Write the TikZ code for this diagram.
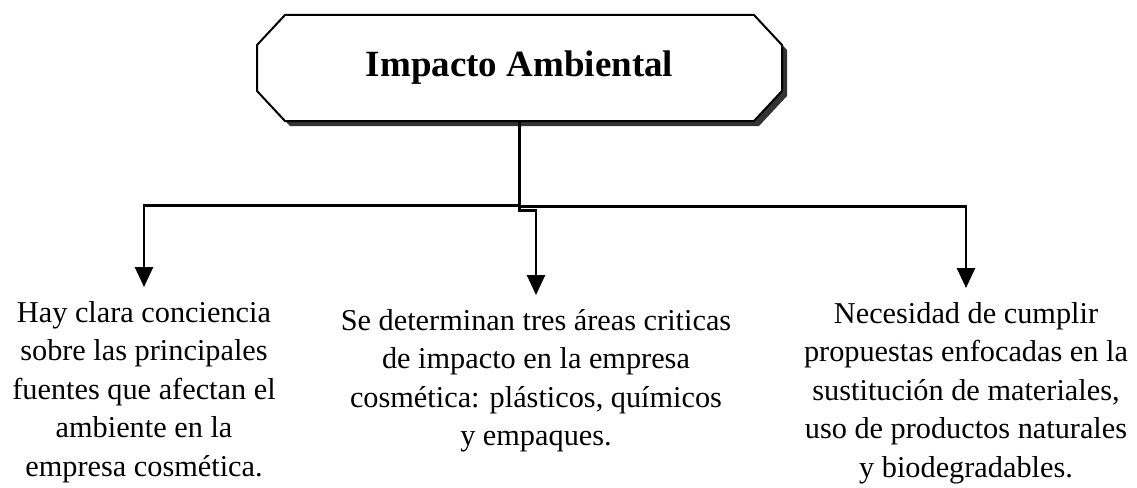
\documentclass[tikz,border=0pt]{standalone}
\usepackage{fontspec}
\setmainfont{Liberation Serif}
\usetikzlibrary{positioning,backgrounds,arrows.meta}

\begin{document}
\begin{tikzpicture}[x=1pt, y=-1pt,
	main/.style = {minimum width=525pt, minimum height=106pt, inner sep=0pt,
		font=\fontsize{37}{44}\selectfont\bfseries},
	octshadow/.style = {fill=black!80},
	octframe/.style = {draw, line width=2pt, fill=white},
	leaf/.style = {align=center, anchor=north, inner xsep=0pt, inner ysep=14pt,
		font=\fontsize{30.3}{38.5}\selectfont},
	arr/.style = {line width=2.7pt, -{Triangle[width=18pt, length=20pt]}}]
	\useasboundingbox (0,0) rectangle (1137,487);
	\node[main] (1) at (519.5,68) {Impacto Ambiental};
	\node[leaf] (2) at (144,287) {Hay clara conciencia\\sobre las principales\\fuentes que afectan el\\ambiente en la\\empresa cosmética.};
	\node[leaf] (3) at (536,295) {Se determinan tres áreas criticas\\de impacto en la empresa\\cosmética: plásticos, químicos\\y empaques.};
	\node[leaf] (4) at (966,288) {Necesidad de cumplir\\propuestas enfocadas en la\\sustitución de materiales,\\uso de productos naturales\\y biodegradables.};
	% octagon frame with shadow
	\begin{scope}[on background layer]
		\foreach \dx/\opt in {5/octshadow, 0/octframe} {
			\path[\opt, shift={(\dx,\dx)}]
				(285,15) -- (754,15) -- (782,45) -- (782,91) -- (754,121)
				-- (285,121) -- (257,91) -- (257,45) -- cycle;
		}
	\end{scope}
	\draw[line width=3.5pt] (1.south) -- ++(0,89);
	\draw[arr] (1.south) -- ++(0,84) -| (2);
	\draw[arr] (1.south) -- ++(0,89) -| (3);
	\draw[arr] (1.south) -- ++(0,85) -| (4);
\end{tikzpicture}
\end{document}
